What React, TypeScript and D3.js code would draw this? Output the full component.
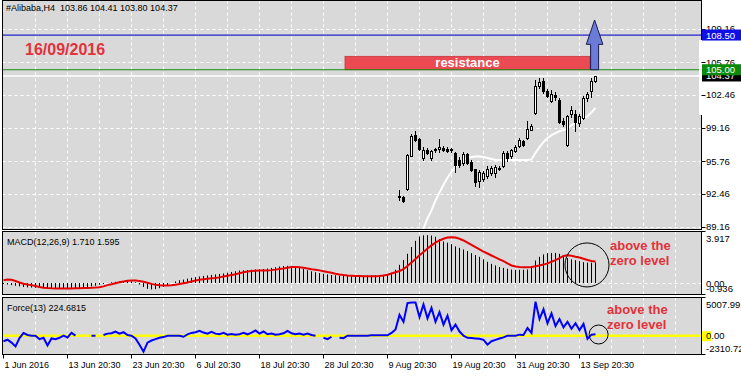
import React from "react";
import * as d3 from "d3";

// ---------- DATA ----------
const candleOpen = [92.3, 92.2, 92.95, 96.3, 98.4, 98.0, 96.1, 96.9, 96.1, 96.85, 97.0, 97.1, 97.0, 97.0, 96.6, 95.9, 95.55, 96.5, 95.7, 94.95, 93.8, 94.0, 94.3, 94.55, 94.6, 95.0, 95.25, 96.6, 96.3, 96.8, 97.3, 97.8, 98.1, 98.95, 100.6, 103.35, 103.9, 102.9, 101.8, 102.5, 101.9, 99.8, 97.4, 100.5, 100.5, 99.6, 100.15, 102.1, 102.9, 103.86];
const candleHigh = [92.87, 92.3, 96.5, 98.5, 98.8, 98.1, 97.2, 97.1, 96.9, 97.1, 98.0, 97.3, 97.2, 97.1, 96.7, 96.2, 96.7, 96.6, 95.9, 95.0, 94.9, 94.8, 95.3, 95.3, 95.4, 95.3, 96.8, 96.8, 97.0, 97.4, 98.1, 97.9, 99.8, 99.5, 104.0, 104.15, 104.2, 103.1, 103.0, 102.8, 102.1, 100.1, 100.4, 101.3, 100.9, 100.5, 102.3, 102.8, 104.2, 104.41];
const candleLow = [91.86, 91.7, 92.9, 96.25, 97.85, 96.9, 95.9, 96.5, 95.9, 96.7, 96.65, 96.8, 96.7, 96.7, 94.7, 95.2, 95.4, 95.5, 94.8, 93.3, 93.2, 93.8, 94.1, 94.4, 94.2, 94.85, 95.15, 95.8, 96.1, 96.7, 97.2, 97.3, 98.0, 98.9, 100.5, 103.2, 102.7, 102.2, 101.7, 101.9, 99.6, 99.3, 97.3, 100.2, 98.8, 99.3, 100.0, 101.8, 102.2, 103.8];
const candleClose = [92.2, 91.8, 96.4, 98.3, 97.9, 97.0, 96.9, 96.6, 96.8, 97.05, 97.2, 96.9, 96.8, 96.85, 95.4, 95.4, 96.5, 95.6, 94.9, 93.7, 94.7, 94.6, 94.95, 95.1, 95.2, 95.1, 96.6, 96.1, 96.85, 97.25, 97.95, 97.4, 99.0, 99.35, 103.35, 103.8, 102.85, 102.3, 102.55, 102.2, 99.7, 99.5, 100.3, 100.9, 99.7, 100.3, 102.15, 102.55, 103.9, 104.37];
const maValues: (number | null)[] = [null, null, null, null, null, 87.8, 89.0, 90.0, 90.8, 91.8, 92.6, 93.4, 94.1, 94.7, 95.2, 95.6, 95.9, 96.1, 96.2, 96.25, 96.25, 96.2, 96.1, 96.0, 95.9, 95.9, 95.9, 95.9, 95.9, 95.9, 95.9, 95.9, 95.9, 95.95, 96.6, 97.2, 97.7, 98.1, 98.4, 98.6, 98.8, 98.9, 99.1, 99.4, 99.6, 99.9, 100.1, 100.3, 100.7, 101.15];

const macdHist = [
  -0.05, -0.1, -0.15, -0.2, -0.25, -0.3, -0.33, -0.35, -0.37, -0.38,
  -0.4, -0.4, -0.42, -0.43, -0.45, -0.46, -0.45, -0.44, -0.43, -0.4,
  -0.35, -0.3, -0.25, -0.2, -0.12, -0.05, 0.03, 0.08, 0.12, 0.15,
  0.17, 0.18, 0.15, 0.08, -0.1, -0.3, -0.45, -0.5, -0.48, -0.4,
  -0.3, -0.15, 0.02, 0.15, 0.25, 0.3, 0.38, 0.45, 0.5, 0.55,
  0.6, 0.64, 0.68, 0.72, 0.76, 0.8, 0.86, 0.92, 0.98, 1.04,
  1.06, 1.08, 1.1, 1.12, 1.14, 1.16, 1.2, 1.25, 1.3, 1.36,
  1.4, 1.42, 1.4, 1.35, 1.26, 1.16, 1.06, 0.97, 0.9, 0.83,
  0.77, 0.72, 0.68, 0.65, 0.62, 0.61, 0.6, 0.6, 0.6, 0.61,
  0.62, 0.63, 0.64, 0.65, 0.66, 0.68, 0.72, 0.85, 1.1, 1.5,
  1.9, 2.4, 2.95, 3.45, 3.8, 3.9, 3.91, 3.88, 3.78, 3.6,
  3.4, 3.3, 3.18, 3.0, 2.88, 2.75, 2.62, 2.45, 2.3, 2.15,
  1.95, 1.75, 1.58, 1.45, 1.32, 1.25, 1.18, 1.12, 1.1, 1.1,
  1.1, 1.12, 1.4, 1.85, 2.15, 2.35, 2.45, 2.47, 2.47, 2.4,
  2.2, 2.05, 1.95, 1.88, 1.8, 1.72, 1.68, 1.68, 1.71
];
const macdSignal = [
  0.25, 0.3, 0.28, 0.18, 0.06, -0.03, -0.1, -0.15, -0.22, -0.3,
  -0.36, -0.39, -0.41, -0.42, -0.43, -0.43, -0.43, -0.42, -0.41, -0.4,
  -0.39, -0.38, -0.37, -0.35, -0.32, -0.25, -0.15, -0.08, 0.0, 0.08,
  0.15, 0.2, 0.23, 0.22, 0.18, 0.12, 0.04, -0.05, -0.12, -0.16,
  -0.17, -0.17, -0.16, -0.12, -0.06, 0.0, 0.06, 0.14, 0.22, 0.29,
  0.33, 0.37, 0.4, 0.43, 0.48, 0.55, 0.62, 0.68, 0.74, 0.82,
  0.9, 0.96, 1.0, 1.02, 1.03, 1.03, 1.04, 1.07, 1.11, 1.16,
  1.2, 1.26, 1.32, 1.33, 1.3, 1.26, 1.21, 1.15, 1.1, 1.05,
  0.98, 0.91, 0.85, 0.78, 0.72, 0.67, 0.64, 0.62, 0.6, 0.59,
  0.58, 0.57, 0.57, 0.58, 0.6, 0.64, 0.7, 0.8, 0.9, 1.0,
  1.15, 1.4, 1.68, 1.98, 2.28, 2.55, 2.82, 3.08, 3.3, 3.48,
  3.62, 3.72, 3.75, 3.72, 3.62, 3.48, 3.3, 3.12, 2.94, 2.76,
  2.58, 2.42, 2.26, 2.1, 1.95, 1.8, 1.62, 1.45, 1.36, 1.32,
  1.3, 1.3, 1.32, 1.38, 1.45, 1.52, 1.62, 1.75, 1.88, 2.05,
  2.22, 2.28, 2.24, 2.16, 2.1, 2.0, 1.9, 1.82, 1.78
];
const forceValues: (number | null)[] = [
  -800, -580, -1000, -1540, -340, 385, 100, 0, 0, -500,
  -300, -1400, -400, -500, -300, 0, -250, 400, 0, null,
  null, null, 0, 0, null, 100, 300, 350, 600, 300,
  500, 100, 0, -400, -1300, -2300, -1000, -700, -500, -300,
  -200, 0, 0, 0, 0, -150, 200, 400, 500, 700,
  450, 300, 550, 300, 200, 400, 150, 250, 150, 200,
  400, 200, 450, 750, 300, 600, 200, 300, 150, 200,
  350, 700, 350, 200, 300, 150, 300, 100, 0, null,
  -300, -500, -150, null, -300, -350, 0, 0, 0, 0,
  0, 0, 50, 50, 50, 50, 50, 400, 900, 3000,
  2000, 4700, 4800, 4800, 2700, 4500, 2500, 4000, 2000, 3400,
  1600, 2900, 800, 1600, 600, 0, -300, -350, -400, -450,
  -600, -1300, -800, -600, -400, -250, 0, 0, 0, 150,
  100, 1100, 400, 4900, 2400, 3800, 1800, 3200, 1400, 2400,
  1200, 2000, 1000, 1800, 800, 1700, -450, 150, 224.68
];

const priceTicks = [109.16, 105.76, 102.46, 99.16, 95.76, 92.46, 89.16];
const timeLabels = ["1 Jun 2016", "13 Jun 20:30", "23 Jun 20:30", "6 Jul 20:30", "18 Jul 20:30", "28 Jul 20:30", "9 Aug 20:30", "19 Aug 20:30", "31 Aug 20:30", "13 Sep 20:30"];

const FIRST_CANDLE = 99;
const resistanceLevel = 105.0;
const resistanceTop = 106.35;
const resistanceFrom = 85.5;
const resistanceTo = 146.75;
const blueLevel = 108.5;
const lastPrice = 104.37;
const arrowBar = 147.9;
const arrowTip = 110.02;
const arrowHeadBase = 107.56;

const FONT = "'Liberation Sans', Arial, sans-serif";

export default function App() {
  const x = d3.scaleLinear().domain([0, 148]).range([3, 595]);
  const yP = d3.scaleLinear().domain([89.16, 109.16]).range([226.7, 28.5]);
  const yM = d3.scaleLinear().domain([-0.936, 3.917]).range([294.8, 235.1]);
  const yF = d3.scaleLinear().domain([-2310.72, 5007.991]).range([351.7, 301]);

  const L = 2.5, R = 701.5;
  const main = { top: 0.5, bottom: 229.5 };
  const macdP = { top: 231.5, bottom: 294.5 };
  const forceP = { top: 297.5, bottom: 354.5 };

  const px = (j: number) => Math.round(x(j)) + 0.5;
  const gridBars = d3.range(8, 169, 8);

  const maLine = d3.line<number | null>()
    .defined((d) => d != null)
    .x((_, i) => px(FIRST_CANDLE + i))
    .y((d) => yP(d as number));
  const sigLine = d3.line<number>().x((_, i) => px(i)).y((d) => yM(d));
  const forceLine = d3.line<number | null>()
    .defined((d) => d != null)
    .x((_, i) => px(i))
    .y((d) => yF(d as number));

  const panelsList = [main, macdP, forceP];

  const ax = x(arrowBar);
  const arrowPts = [
    [ax, yP(arrowTip)],
    [ax + 8.3, yP(arrowHeadBase)],
    [ax + 4, yP(arrowHeadBase)],
    [ax + 4, yP(resistanceLevel)],
    [ax - 4, yP(resistanceLevel)],
    [ax - 4, yP(arrowHeadBase)],
    [ax - 8.3, yP(arrowHeadBase)],
  ].map((p) => p.join(",")).join(" ");

  return (
    <svg width={741} height={376} style={{ position: "absolute", left: 0, top: 0, background: "#fff" }} fontFamily={FONT}>
      <defs>
        <clipPath id="clipMain"><rect x={L} y={main.top} width={R - L} height={main.bottom - main.top} /></clipPath>
        <clipPath id="clipMacd"><rect x={L} y={macdP.top} width={R - L} height={macdP.bottom - macdP.top} /></clipPath>
        <clipPath id="clipForce"><rect x={L} y={forceP.top} width={R - L} height={forceP.bottom - forceP.top} /></clipPath>
      </defs>
      {panelsList.map((p, i) => (
        <rect key={i} x={L} y={p.top} width={R - L} height={p.bottom - p.top} fill="#d9d9d9" />
      ))}
      {/* vertical grid */}
      {panelsList.map((p, i) => (
        <g key={i}>
          {gridBars.map((j) => (
            <line key={j} x1={px(j) - 0.5 + 0.5} x2={px(j)} y1={p.top} y2={p.bottom} stroke="#fff" strokeDasharray="3,3" />
          ))}
        </g>
      ))}
      {/* horizontal price grid */}
      {priceTicks.map((t) => (
        <line key={t} x1={L} x2={R} y1={Math.round(yP(t)) + 0.5} y2={Math.round(yP(t)) + 0.5} stroke="#fff" strokeDasharray="3,3" />
      ))}
      <line x1={L} x2={R} y1={Math.round(yM(0)) + 0.5} y2={Math.round(yM(0)) + 0.5} stroke="#fff" strokeDasharray="3,3" />

      {/* main panel content */}
      <g clipPath="url(#clipMain)">
        <line x1={L} x2={R} y1={yP(blueLevel)} y2={yP(blueLevel)} stroke="#2424c8" strokeWidth={1.2} />
        <line x1={L} x2={R} y1={yP(lastPrice)} y2={yP(lastPrice)} stroke="#ffffff" strokeWidth={1.5} />
        <rect x={x(resistanceFrom)} y={yP(resistanceTop)} width={x(resistanceTo) - x(resistanceFrom)} height={yP(resistanceLevel) - yP(resistanceTop)} fill="#ec4a52" stroke="#c9343b" strokeWidth={0.8} />
        <line x1={L} x2={R} y1={yP(resistanceLevel)} y2={yP(resistanceLevel)} stroke="#148a14" strokeWidth={1.2} />
        <text x={(x(resistanceFrom) + x(resistanceTo)) / 2} y={yP(resistanceLevel) - 2.5} textAnchor="middle" fill="#fff" fontWeight="bold" fontSize={13}>resistance</text>
        <polygon points={arrowPts} fill="#6b7bd6" stroke="#1a1a50" strokeWidth={1} />
        <path d={maLine(maValues) || ""} fill="none" stroke="#ffffff" strokeWidth={2} />
        {candleOpen.map((o, i) => {
          const c = candleClose[i];
          const cx = px(FIRST_CANDLE + i);
          const bull = c >= o;
          const top = Math.round(yP(Math.max(o, c))) + 0.5;
          const bot = Math.round(yP(Math.min(o, c))) + 0.5;
          return (
            <g key={i}>
              <line x1={cx} x2={cx} y1={Math.round(yP(candleHigh[i]))} y2={Math.round(yP(candleLow[i])) + 1} stroke="#000" />
              <rect x={cx - 1} y={top} width={2} height={Math.max(bot - top, 0.5)} fill={bull ? "#fff" : "#000"} stroke="#000" strokeWidth={1} />
            </g>
          );
        })}
        <text x={6} y={11} fontSize={9} fill="#000" style={{ whiteSpace: "pre" }}>{"#Alibaba,H4  103.86 104.41 103.80 104.37"}</text>
        <text x={25} y={55} fontSize={16} fontWeight="bold" fill="#e2323b">16/09/2016</text>
      </g>

      {/* MACD */}
      <g clipPath="url(#clipMacd)">
        {macdHist.map((v, j) => (
          <line key={j} x1={px(j)} x2={px(j)} y1={Math.round(yM(0))} y2={yM(v)} stroke="#000" strokeWidth={1} />
        ))}
        <path d={sigLine(macdSignal) || ""} fill="none" stroke="#e60000" strokeWidth={2} />
        <circle cx={x(146)} cy={yM(1.49)} r={22} fill="none" stroke="#000" strokeWidth={1} />
        <text x={7} y={245} fontSize={9} fill="#000">MACD(12,26,9) 1.710 1.595</text>
        <text x={610} y={250} fontSize={13} fontWeight="bold" fill="#e2323b">above the</text>
        <text x={610} y={265} fontSize={13} fontWeight="bold" fill="#e2323b">zero level</text>
      </g>

      {/* Force */}
      <g clipPath="url(#clipForce)">
        <line x1={L} x2={R} y1={yF(0)} y2={yF(0)} stroke="#ffff00" strokeWidth={2.5} />
        <path d={forceLine(forceValues) || ""} fill="none" stroke="#0000ff" strokeWidth={2} />
        <circle cx={x(148.9)} cy={yF(173)} r={9.5} fill="none" stroke="#000" strokeWidth={1} />
        <text x={7} y={311} fontSize={9} fill="#000">Force(13) 224.6815</text>
        <text x={607} y={314} fontSize={13} fontWeight="bold" fill="#e2323b">above the</text>
        <text x={607} y={329} fontSize={13} fontWeight="bold" fill="#e2323b">zero level</text>
      </g>

      {/* panel borders */}
      {panelsList.map((p, i) => (
        <rect key={i} x={L} y={p.top} width={R - L} height={p.bottom - p.top} fill="none" stroke="#000" />
      ))}
      <rect x={699} y={40} width={4} height={75} fill="#fff" />

      {/* price axis */}
      {priceTicks.map((t) => (
        <g key={t}>
          <line x1={R} x2={R + 4} y1={Math.round(yP(t)) + 0.5} y2={Math.round(yP(t)) + 0.5} stroke="#000" />
          <text x={706} y={yP(t) + 3.5} fontSize={9.5} fill="#000">{t.toFixed(2)}</text>
        </g>
      ))}
      <rect x={702} y={yP(lastPrice) - 5.5} width={39} height={11} fill="#000" />
      <text x={706} y={yP(lastPrice) + 3.5} fontSize={9.5} fill="#fff">{lastPrice.toFixed(2)}</text>
      <rect x={702} y={yP(resistanceLevel) - 5.5} width={39} height={11} fill="#0b8a0b" />
      <text x={706} y={yP(resistanceLevel) + 3.5} fontSize={9.5} fill="#fff">{resistanceLevel.toFixed(2)}</text>
      <rect x={702} y={yP(blueLevel) - 5.5} width={39} height={11} fill="#1010e6" />
      <text x={706} y={yP(blueLevel) + 3.5} fontSize={9.5} fill="#fff">{blueLevel.toFixed(2)}</text>

      {/* MACD axis */}
      <line x1={R} x2={R + 4} y1={macdP.top} y2={macdP.top} stroke="#000" />
      <text x={706} y={242} fontSize={9.5} fill="#000">3.917</text>
      <line x1={R} x2={R + 4} y1={macdP.bottom} y2={macdP.bottom} stroke="#000" />
      <text x={706} y={291.5} fontSize={9.5} fill="#000">-0.936</text>
      <text x={706} y={286.5} fontSize={9.5} fill="#000">0.00</text>

      {/* Force axis */}
      <line x1={R} x2={R + 4} y1={forceP.top} y2={forceP.top} stroke="#000" />
      <text x={706} y={308} fontSize={9.5} fill="#000">5007.991</text>
      <rect x={702} y={yF(0) - 4.5} width={9} height={10} fill="#ffff00" />
      <text x={706} y={yF(0) + 3.5} fontSize={9.5} fill="#000">0.00</text>
      <line x1={R} x2={R + 4} y1={forceP.bottom} y2={forceP.bottom} stroke="#000" />
      <text x={706} y={351.5} fontSize={9.5} fill="#000">-2310.72</text>

      {/* time axis */}
      {timeLabels.map((t, k) => (
        <g key={t}>
          <line x1={px(16 * k)} x2={px(16 * k)} y1={forceP.bottom} y2={forceP.bottom + 4} stroke="#000" />
          <text x={px(16 * k) + 1} y={368} fontSize={9} fill="#000">{t}</text>
        </g>
      ))}
    </svg>
  );
}
